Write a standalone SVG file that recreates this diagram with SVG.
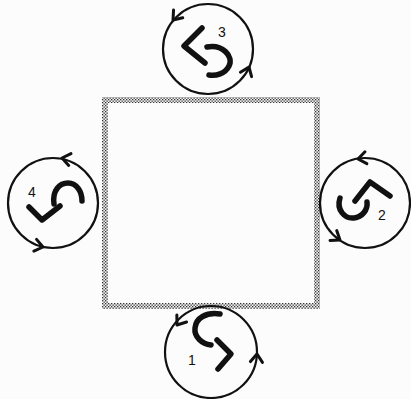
<svg xmlns="http://www.w3.org/2000/svg" width="411" height="399" viewBox="0 0 411 399">
<defs>
<pattern id="dots" width="3" height="3" patternUnits="userSpaceOnUse">
<rect width="3" height="3" fill="#f0f0f0"/>
<rect x="0" y="0" width="1.3" height="1.3" fill="#333"/>
<rect x="1.5" y="1.5" width="1.3" height="1.3" fill="#333"/>
</pattern>
<path id="ah" d="M-8,-6 L0,0 L-8,6"/>
</defs>
<style>
.ring{fill:none;stroke:#111;stroke-width:2.2}
.sym{fill:none;stroke:#111;stroke-width:5.5;stroke-linecap:round;stroke-linejoin:round}
.arr use{fill:none;stroke:#111;stroke-width:3;stroke-linecap:round;stroke-linejoin:round}
.num{font-family:"Liberation Sans",Arial,sans-serif;font-size:14px;fill:#111}
</style>
<rect width="411" height="399" fill="#fcfcfc"/>
<g id="square">
<rect x="105" y="100" width="212" height="206" fill="none" stroke="url(#dots)" stroke-width="6"/>
</g>
<g id="node3">
<circle class="ring" cx="208" cy="49" r="45"/>
<path class="sym" d="M202,28 L184,46 L205,63"/>
<path class="sym" d="M207,47 C222,44 234,56 229,66 C225,74 216,76 209,75"/>
<text class="num" x="218" y="37">3</text>
</g>
<g id="node4">
<circle class="ring" cx="53" cy="203" r="45"/>
<path class="sym" d="M54,204 C52,190 60,183 68,183 C77,183 82,192 82,201"/>
<path class="sym" d="M29,207 L42,220 L60,206"/>
<text class="num" x="28" y="197">4</text>
</g>
<g id="node2">
<circle class="ring" cx="365" cy="203" r="45"/>
<path class="sym" d="M355,201 L370,182 L390,196"/>
<path class="sym" d="M340,198 C336,210 345,219 354,218 C362,217 368,210 367,202"/>
<text class="num" x="378" y="220">2</text>
</g>
<g id="node1">
<circle class="ring" cx="211" cy="352" r="46"/>
<path class="sym" d="M220,314 C206,312 196,318 195,328 C194,337 202,344 211,345"/>
<path class="sym" d="M217,340 L231,354 L218,369"/>
<text class="num" x="188" y="365" font-size="12">1</text>
</g>
<g id="connectors" class="arr">
<use href="#ah" transform="translate(173,20) rotate(130)"/>
<use href="#ah" transform="translate(249,67) rotate(-68)"/>
<use href="#ah" transform="translate(62,158) rotate(-169)"/>
<use href="#ah" transform="translate(43,247) rotate(13)"/>
<use href="#ah" transform="translate(358,159) rotate(171)"/>
<use href="#ah" transform="translate(340,240) rotate(34)"/>
<use href="#ah" transform="translate(177,325) rotate(126)"/>
<use href="#ah" transform="translate(257,354) rotate(-86)"/>
</g>
</svg>
